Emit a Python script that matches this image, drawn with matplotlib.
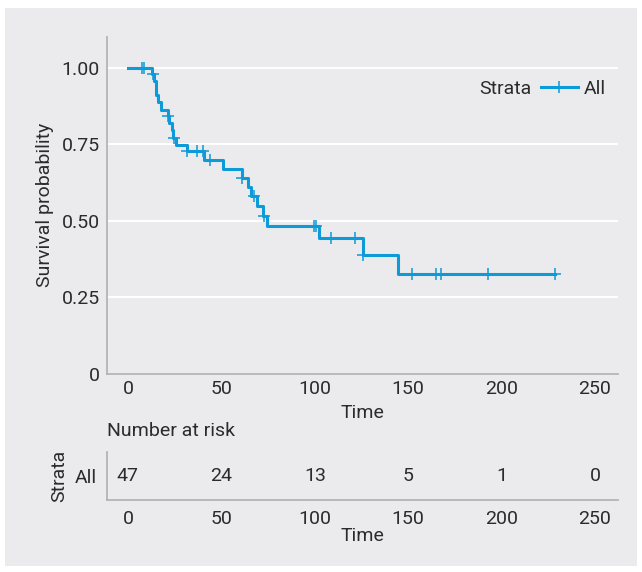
import matplotlib
matplotlib.use("Agg")
import matplotlib.pyplot as plt
from matplotlib.lines import Line2D
from matplotlib.patches import Rectangle

plt.rcParams['font.family'] = ['Roboto', 'DejaVu Sans']

# step points of the Kaplan-Meier curve (time, survival)
event_time = [0, 13.0, 14.1, 15.0, 16.2, 17.6, 21.2, 22.1, 23.4, 24.3, 25.5,
              31.5, 40.7, 50.7, 60.9, 64.1, 65.8, 69.2, 72.4, 74.2, 102.1,
              125.8, 144.5, 228.6]
surv = [1.0, 0.979, 0.955, 0.910, 0.887, 0.863, 0.842, 0.820, 0.798, 0.771,
        0.749, 0.728, 0.699, 0.669, 0.641, 0.609, 0.580, 0.549, 0.516, 0.483,
        0.443, 0.388, 0.326, 0.326]

# censored observations
cens_time = [7.3, 8.7, 13.4, 21.5, 24.8, 31.7, 36.8, 40.0, 43.7, 61.2, 67.6,
             72.6, 99.7, 100.6, 108.7, 121.5, 126.0, 151.9, 164.9, 167.4,
             192.6, 228.6]
cens_surv = [1.0, 1.0, 0.979, 0.842, 0.771, 0.728, 0.728, 0.728, 0.699, 0.641,
             0.580, 0.516, 0.483, 0.483, 0.443, 0.443, 0.388, 0.326, 0.326,
             0.326, 0.326, 0.326]

# number at risk table
risk_time = [0, 50, 100, 150, 200, 250]
n_risk = [47, 24, 13, 5, 1, 0]

y_ticks = [0, 0.25, 0.5, 0.75, 1.0]
y_labels = ['0', '0.25', '0.50', '0.75', '1.00']

BG = '#ebebee'
BLUE = '#0d9ad8'
TXT = '#2b2b2b'
SPINE = '#b4b4b4'
FS = 14

W, H = 642, 572
fig = plt.figure(figsize=(W / 100, H / 100), dpi=100)
fig.patch.set_facecolor('white')
fig.add_artist(Rectangle((5 / W, 6 / H), 632 / W, 558 / H, transform=fig.transFigure,
                         facecolor=BG, edgecolor='none', zorder=-5))


def style(ax):
    ax.set_facecolor(BG)
    for s in ['top', 'right']:
        ax.spines[s].set_visible(False)
    for s in ['left', 'bottom']:
        ax.spines[s].set_color(SPINE)
        ax.spines[s].set_linewidth(1.3)
    ax.tick_params(length=0, labelsize=FS, labelcolor=TXT)
    ax.set_xlim(-11.2, 262.3)
    ax.set_xticks(risk_time)


# main survival plot
ax = fig.add_axes([107 / W, 1 - 374 / H, 511 / W, 337 / H])
style(ax)
ax.set_ylim(0, 1.1)
ax.set_yticks(y_ticks)
ax.set_yticklabels(y_labels)
ax.tick_params(axis='y', pad=5)
ax.tick_params(axis='x', pad=4)
ax.yaxis.grid(True, color='white', lw=1.4)
ax.set_axisbelow(True)
ax.step(event_time, surv, where='post', color=BLUE, lw=2.2)
ax.plot(cens_time, cens_surv, '+', color=BLUE, ms=8, mew=1.1)

h = Line2D([], [], color=BLUE, lw=2.2, marker='+', ms=8, mew=1.1)
ax.legend([h], ['All'], loc='center left', bbox_to_anchor=(541 / W, 1 - 89 / H),
          bbox_transform=fig.transFigure, frameon=False, fontsize=FS,
          handlelength=1.9, handletextpad=0.3, borderpad=0, borderaxespad=0,
          labelcolor=TXT)
fig.text(532 / W, 1 - 89 / H, 'Strata', ha='right', va='center', fontsize=FS, color=TXT)

fig.text(45 / W, 1 - 205 / H, 'Survival probability', rotation=90, ha='center',
         va='center', fontsize=FS, color=TXT)
fig.text(362.5 / W, 1 - 413 / H, 'Time', ha='center', va='center', fontsize=FS, color=TXT)
fig.text(107 / W, 1 - 431 / H, 'Number at risk', ha='left', va='center', fontsize=FS, color=TXT)

# risk table
rax = fig.add_axes([107 / W, 1 - 500 / H, 511 / W, 48 / H])
style(rax)
rax.set_ylim(0, 1)
rax.set_yticks([0.5])
rax.set_yticklabels(['All'])
rax.tick_params(axis='y', pad=7)
rax.tick_params(axis='x', pad=7)
for t, n in zip(risk_time, n_risk):
    rax.text(t, 0.5, str(n), ha='center', va='center', fontsize=FS, color=TXT)
fig.text(59.5 / W, 1 - 476 / H, 'Strata', rotation=90, ha='center', va='center',
         fontsize=FS, color=TXT)
fig.text(362.5 / W, 1 - 536 / H, 'Time', ha='center', va='center', fontsize=FS, color=TXT)

fig.savefig('out.png', dpi=100, facecolor=fig.get_facecolor())
